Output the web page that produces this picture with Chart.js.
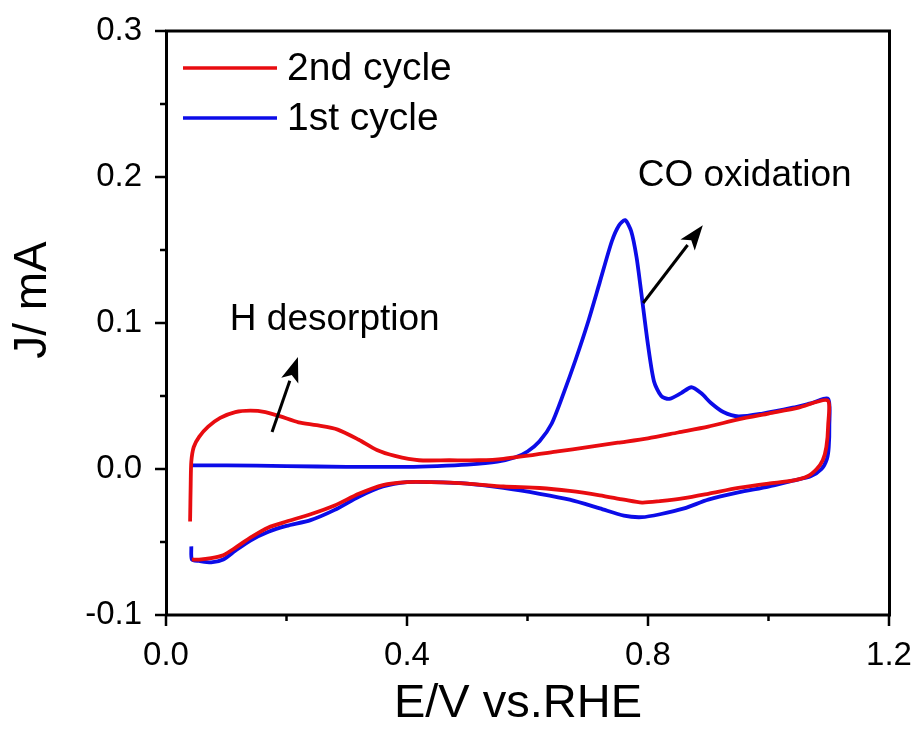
<!DOCTYPE html>
<html>
<head>
<meta charset="utf-8">
<script src="https://cdn.jsdelivr.net/npm/chart.js@4.4.1/dist/chart.umd.min.js"></script>
<style>
  html, body { margin: 0; padding: 0; background: #fff; }
</style>
</head>
<body>
<canvas id="chart" width="922" height="731"></canvas>
<script>
"use strict";

// CO stripping voltammogram: 2nd cycle (red) and 1st cycle (blue)
const cycle2_E = [
  0.040, 0.041, 0.042, 0.046, 0.055, 0.070, 0.090, 0.115, 0.140, 0.165,
  0.190, 0.220, 0.250, 0.285, 0.320, 0.350, 0.380, 0.420, 0.470, 0.520,
  0.560, 0.650, 0.700, 0.750, 0.800, 0.850, 0.900, 0.950, 1.000, 1.050,
  1.098, 1.099, 1.096, 1.090, 1.080, 1.065, 1.040, 1.000, 0.950, 0.900,
  0.860, 0.820, 0.790, 0.760, 0.720, 0.670, 0.620, 0.560, 0.500, 0.440,
  0.400, 0.360, 0.320, 0.280, 0.240, 0.200, 0.170, 0.140, 0.115, 0.095,
  0.075, 0.055, 0.043
];
const cycle2_J = [
  -0.036, -0.010, 0.005, 0.015, 0.022, 0.029, 0.035, 0.039, 0.040, 0.039,
  0.036, 0.032, 0.030, 0.027, 0.020, 0.013, 0.009, 0.006, 0.006, 0.006,
  0.007, 0.012, 0.015, 0.018, 0.021, 0.025, 0.029, 0.034, 0.038, 0.042,
  0.047, 0.030, 0.015, 0.006, 0.000, -0.005, -0.008, -0.010, -0.013, -0.017,
  -0.020, -0.022, -0.023, -0.021, -0.018, -0.015, -0.013, -0.012, -0.010, -0.009,
  -0.009, -0.011, -0.017, -0.025, -0.031, -0.036, -0.040, -0.047, -0.054, -0.059,
  -0.061, -0.062, -0.062
];

const cycle1_E = [
  0.042, 0.100, 0.200, 0.300, 0.400, 0.450, 0.500, 0.550, 0.580, 0.600,
  0.620, 0.640, 0.660, 0.680, 0.700, 0.720, 0.740, 0.752, 0.762, 0.772,
  0.781, 0.790, 0.800, 0.810, 0.822, 0.835, 0.855, 0.872, 0.888, 0.905,
  0.925, 0.950, 0.990, 1.040, 1.070, 1.099, 1.101, 1.100, 1.097, 1.088, 1.070,
  1.040, 1.000, 0.950, 0.900, 0.860, 0.820, 0.790, 0.760, 0.720, 0.670,
  0.620, 0.560, 0.500, 0.440, 0.400, 0.360, 0.320, 0.280, 0.240, 0.200,
  0.170, 0.140, 0.115, 0.095, 0.075, 0.055, 0.043, 0.042
];
const cycle1_J = [
  0.0025, 0.0025, 0.002, 0.0015, 0.0015, 0.002, 0.003, 0.005, 0.008, 0.012,
  0.019, 0.031, 0.052, 0.075, 0.100, 0.128, 0.156, 0.167, 0.1705, 0.163,
  0.145, 0.117, 0.085, 0.060, 0.050, 0.048, 0.052, 0.056, 0.052, 0.045,
  0.039, 0.036, 0.038, 0.042, 0.045, 0.048, 0.030, 0.015, 0.007, 0.000, -0.005,
  -0.008, -0.012, -0.016, -0.021, -0.027, -0.031, -0.033, -0.032, -0.027, -0.021,
  -0.017, -0.013, -0.010, -0.009, -0.009, -0.012, -0.019, -0.028, -0.035, -0.039,
  -0.043, -0.049, -0.056, -0.062, -0.064, -0.063, -0.062, -0.053
];

const series_labels = ['2nd cycle', '1st cycle'];
const x_ticks = [0.0, 0.4, 0.8, 1.2];
const x_minor = [0.2, 0.6, 1.0];
const y_ticks = [-0.1, 0.0, 0.1, 0.2, 0.3];
const y_minor = [-0.05, 0.05, 0.15, 0.25];

const FONT = '"Liberation Sans", Arial, Helvetica, sans-serif';
const RED = 'rgb(232, 12, 16)';
const BLUE = 'rgb(12, 12, 232)';

function toPoints(xs, ys) {
  return xs.map(function(x, i) { return {x: x, y: ys[i]}; });
}

// notes and arrows, in data units
const notes = [
  {text: 'H desorption', x: 0.106, y: 0.102},
  {text: 'CO oxidation', x: 0.783, y: 0.201}
];
const arrows = [
  {from: [0.176, 0.0253], to: [0.219, 0.0767]},
  {from: [0.792, 0.1137], to: [0.891, 0.167]}
];

const decor = {
  id: 'decor',
  afterDraw: function(chart) {
    const ctx = chart.ctx;
    const a = chart.chartArea;
    const xs = chart.scales.x, ys = chart.scales.y;
    ctx.save();

    // frame
    ctx.strokeStyle = '#000';
    ctx.lineWidth = 3;
    ctx.strokeRect(a.left + 0.5, a.top, a.right - a.left, a.bottom - a.top);

    // outward ticks on left and bottom
    ctx.lineWidth = 2.5;
    ctx.beginPath();
    y_ticks.forEach(function(v) { const p = ys.getPixelForValue(v); ctx.moveTo(a.left - 11, p); ctx.lineTo(a.left, p); });
    y_minor.forEach(function(v) { const p = ys.getPixelForValue(v); ctx.moveTo(a.left - 6, p); ctx.lineTo(a.left, p); });
    x_ticks.forEach(function(v) { const p = xs.getPixelForValue(v); ctx.moveTo(p, a.bottom); ctx.lineTo(p, a.bottom + 11); });
    x_minor.forEach(function(v) { const p = xs.getPixelForValue(v); ctx.moveTo(p, a.bottom); ctx.lineTo(p, a.bottom + 6); });
    ctx.stroke();

    // axis titles
    ctx.fillStyle = '#000';
    ctx.font = '47px ' + FONT;
    ctx.textAlign = 'center';
    ctx.textBaseline = 'middle';
    ctx.fillText('E/V vs.RHE', 518, 704);
    ctx.save();
    ctx.translate(33, 300);
    ctx.rotate(-Math.PI / 2);
    ctx.font = '46px ' + FONT;
    ctx.fillText('J/ mA', 0, 0);
    ctx.restore();

    // legend
    ctx.lineWidth = 3.5;
    ctx.font = '39px ' + FONT;
    ctx.textAlign = 'left';
    chart.data.datasets.forEach(function(ds, i) {
      const y = 68 + i * 50;
      ctx.strokeStyle = ds.borderColor;
      ctx.beginPath();
      ctx.moveTo(183, y);
      ctx.lineTo(277, y);
      ctx.stroke();
      ctx.fillStyle = '#000';
      ctx.fillText(ds.label, 287, y + 1);
    });

    // notes
    ctx.font = '37px ' + FONT;
    ctx.fillStyle = '#000';
    notes.forEach(function(n) {
      ctx.fillText(n.text, xs.getPixelForValue(n.x), ys.getPixelForValue(n.y));
    });

    // arrows
    ctx.strokeStyle = '#000';
    ctx.fillStyle = '#000';
    ctx.lineWidth = 3;
    arrows.forEach(function(ar) {
      const x0 = xs.getPixelForValue(ar.from[0]), y0 = ys.getPixelForValue(ar.from[1]);
      const x1 = xs.getPixelForValue(ar.to[0]), y1 = ys.getPixelForValue(ar.to[1]);
      const ang = Math.atan2(y1 - y0, x1 - x0);
      const hl = 25, hw = 9;
      const bx = x1 - hl * Math.cos(ang), by = y1 - hl * Math.sin(ang);
      ctx.beginPath();
      ctx.moveTo(x0, y0);
      ctx.lineTo(bx, by);
      ctx.stroke();
      ctx.beginPath();
      ctx.moveTo(x1, y1);
      ctx.lineTo(bx + hw * Math.sin(ang), by - hw * Math.cos(ang));
      ctx.lineTo(x1 - (hl - 6) * Math.cos(ang), y1 - (hl - 6) * Math.sin(ang));
      ctx.lineTo(bx - hw * Math.sin(ang), by + hw * Math.cos(ang));
      ctx.closePath();
      ctx.fill();
    });

    ctx.restore();
  }
};

const chart = new Chart(document.getElementById('chart'), {
  type: 'scatter',
  data: {
    datasets: [
      {label: series_labels[0], data: toPoints(cycle2_E, cycle2_J), borderColor: RED, backgroundColor: RED},
      {label: series_labels[1], data: toPoints(cycle1_E, cycle1_J), borderColor: BLUE, backgroundColor: BLUE}
    ]
  },
  options: {
    responsive: false,
    animation: false,
    events: [],
    layout: {autoPadding: false, padding: {top: 31, right: 33, left: 0, bottom: 0}},
    datasets: {
      scatter: {showLine: true, pointRadius: 0, borderWidth: 3.8, tension: 0.25, fill: false}
    },
    plugins: {legend: {display: false}, tooltip: {enabled: false}},
    scales: {
      x: {
        type: 'linear', min: 0, max: 1.2,
        afterBuildTicks: function(s) { s.ticks = x_ticks.map(function(v) { return {value: v}; }); },
        afterFit: function(s) { s.height = 116; s.paddingLeft = 0; s.paddingRight = 0; },
        ticks: {
          font: {family: FONT, size: 33}, color: '#000', padding: 21, maxRotation: 0,
          callback: function(v) { return v.toFixed(1); }
        },
        grid: {display: false, drawTicks: false},
        border: {display: false}
      },
      y: {
        type: 'linear', min: -0.1, max: 0.3,
        afterBuildTicks: function(s) { s.ticks = y_ticks.map(function(v) { return {value: v}; }); },
        afterFit: function(s) { s.width = 166; s.paddingTop = 0; s.paddingBottom = 0; },
        ticks: {
          font: {family: FONT, size: 33}, color: '#000', padding: 24,
          callback: function(v) { return v.toFixed(1); }
        },
        grid: {display: false, drawTicks: false},
        border: {display: false}
      }
    }
  },
  plugins: [decor]
});
</script>
</body>
</html>
